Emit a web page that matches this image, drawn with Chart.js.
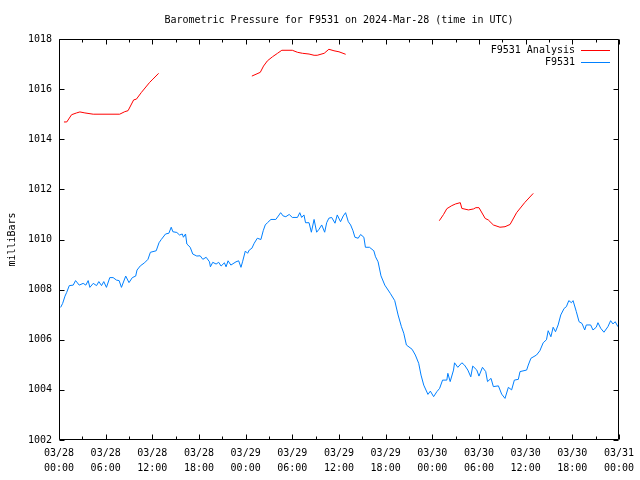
<!DOCTYPE html>
<html>
<head>
<meta charset="utf-8">
<script src="https://cdn.jsdelivr.net/npm/chart.js@4.4.1/dist/chart.umd.min.js"></script>
<style>
html,body{margin:0;padding:0;background:#fff;}
#wrap{width:640px;height:480px;}
</style>
</head>
<body>
<div id="wrap"><canvas id="c" width="640" height="480"></canvas></div>
<script>
const chartTitle = 'Barometric Pressure for F9531 on 2024-Mar-28 (time in UTC)';
const yAxisTitle = 'milliBars';
const seriesNames = ['F9531 Analysis', 'F9531'];
const xTickLabels = [
  ['03/28','00:00'],['03/28','06:00'],['03/28','12:00'],['03/28','18:00'],
  ['03/29','00:00'],['03/29','06:00'],['03/29','12:00'],['03/29','18:00'],
  ['03/30','00:00'],['03/30','06:00'],['03/30','12:00'],['03/30','18:00'],
  ['03/31','00:00']
];
// hours since 2024-03-28 00:00 UTC; null = gap
const analysisHours = [
  0.64,1.0,1.62,2.26,2.69,3.33,4.4,7.8,8.46,8.88,9.6,9.95,10.6,11.66,12.08,12.81,
  null,
  24.8,25.88,26.3,26.8,27.45,28.1,28.65,30.0,30.66,31.3,32.15,32.8,33.2,34.1,34.7,35.36,36.0,36.86,
  null,
  48.9,49.45,49.87,50.5,51.0,51.6,51.8,52.65,53.3,53.6,54.0,54.8,55.2,55.85,56.7,57.35,58.0,58.84,59.9,60.98
];
const analysisValues = [
  1014.69,1014.69,1014.98,1015.05,1015.09,1015.05,1015.0,1015.0,1015.1,1015.14,1015.57,1015.6,1015.87,1016.27,1016.4,1016.63,
  null,
  1016.52,1016.67,1016.92,1017.13,1017.29,1017.43,1017.55,1017.55,1017.47,1017.43,1017.4,1017.35,1017.35,1017.43,1017.59,1017.53,1017.49,1017.39,
  null,
  1010.75,1011.0,1011.23,1011.35,1011.42,1011.47,1011.24,1011.18,1011.22,1011.27,1011.27,1010.84,1010.78,1010.58,1010.49,1010.51,1010.6,1011.07,1011.48,1011.84
];
const stationHours = [
  0.21,0.47,0.77,0.99,1.32,1.83,2.13,2.6,3.11,3.45,3.75,3.97,4.4,4.83,5.12,5.47,5.76,6.1,6.53,6.96,
  7.39,7.73,8.03,8.58,9.0,9.43,9.86,10.03,10.46,11.0,11.44,11.75,12.5,12.86,13.15,13.7,14.13,14.43,14.64,15.15,
  15.5,15.85,16.0,16.27,16.44,16.87,17.2,17.72,18.15,18.49,18.92,19.35,19.47,19.77,20.2,20.53,20.84,21.27,21.48,21.74,
  22.1,22.76,23.1,23.4,23.6,23.96,24.25,24.47,24.8,25.1,25.5,25.96,26.26,26.52,26.8,27.25,27.88,28.3,28.5,28.82,
  29.17,29.6,30.0,30.66,30.96,31.2,31.5,31.7,32.15,32.45,32.8,33.13,33.44,33.78,34.16,34.42,34.7,35.06,35.49,35.78,
  36.2,36.55,36.85,37.2,37.5,37.8,38.05,38.47,38.78,39.2,39.4,39.92,40.48,40.7,41.03,41.4,41.89,42.6,43.17,43.6,
  44.03,44.33,44.67,45.4,45.82,46.25,46.55,46.9,47.44,47.75,48.17,48.59,48.94,49.32,49.87,50.0,50.3,50.73,50.86,51.28,
  51.8,52.14,52.57,52.95,53.2,53.72,54.0,54.45,54.87,55.1,55.55,55.85,56.5,56.92,57.35,57.78,58.2,58.55,59.06,59.28,
  60.13,60.34,60.68,61.4,61.83,62.26,62.68,62.9,63.25,63.54,63.84,64.18,64.52,64.95,65.24,65.55,65.89,66.1,66.52,66.87,
  67.25,67.6,67.8,68.36,68.66,69.08,69.3,69.65,70.07,70.58,70.93,71.23,71.52,71.87
];
const stationValues = [
  1007.29,1007.45,1007.74,1007.89,1008.16,1008.18,1008.36,1008.18,1008.25,1008.18,1008.36,1008.09,1008.25,1008.16,1008.32,1008.16,1008.32,1008.09,1008.48,1008.48,
  1008.38,1008.36,1008.09,1008.54,1008.28,1008.48,1008.54,1008.78,1008.95,1009.07,1009.21,1009.49,1009.55,1009.87,1010.0,1010.22,1010.25,1010.49,1010.31,1010.28,
  1010.18,1010.22,1010.09,1010.22,1009.82,1009.69,1009.42,1009.34,1009.35,1009.21,1009.29,1009.11,1008.91,1009.09,1009.02,1009.09,1008.94,1009.07,1008.91,1009.15,
  1008.98,1009.11,1009.15,1008.89,1009.11,1009.54,1009.45,1009.58,1009.65,1009.85,1010.05,1010.0,1010.35,1010.58,1010.67,1010.8,1010.8,1010.98,1011.07,1010.94,
  1010.91,1011.0,1010.88,1010.88,1011.07,1010.88,1010.98,1010.67,1010.67,1010.29,1010.8,1010.29,1010.41,1010.58,1010.29,1010.67,1010.85,1010.88,1010.65,1010.98,
  1010.71,1010.94,1011.07,1010.71,1010.58,1010.35,1010.09,1010.05,1010.2,1010.09,1009.69,1009.69,1009.55,1009.31,1009.11,1008.55,1008.18,1007.85,1007.56,1006.99,
  1006.52,1006.26,1005.79,1005.62,1005.39,1005.06,1004.59,1004.19,1003.82,1003.95,1003.73,1003.93,1004.06,1004.39,1004.39,1004.66,1004.33,1004.79,1005.08,1004.9,
  1005.08,1004.99,1004.79,1004.52,1004.95,1004.79,1004.55,1004.9,1004.73,1004.33,1004.46,1004.13,1004.16,1003.83,1003.66,1004.1,1004.0,1004.39,1004.42,1004.73,
  1004.79,1004.99,1005.26,1005.39,1005.56,1005.88,1006.0,1006.36,1006.12,1006.5,1006.32,1006.59,1006.99,1007.25,1007.32,1007.56,1007.48,1007.56,1007.12,1006.72,
  1006.65,1006.39,1006.59,1006.59,1006.39,1006.5,1006.68,1006.46,1006.3,1006.52,1006.76,1006.63,1006.72,1006.52
];
const seriesColors = ['#ff0000', '#0080ff'];

const FONT = "'DejaVu Sans Mono', 'Liberation Mono', monospace";

function toPoints(xs, ys) {
  return xs.map((x, i) => (x === null ? {x: NaN, y: null} : {x: x, y: ys[i]}));
}

const framePlugin = {
  id: 'frame',
  beforeDraw(chart) {
    const ctx = chart.ctx;
    ctx.save();
    ctx.fillStyle = '#ffffff';
    ctx.fillRect(0, 0, chart.width, chart.height);
    ctx.restore();
  },
  afterDatasetsDraw(chart) {
    const {ctx, chartArea: a, scales} = chart;
    const L = Math.round(a.left) + 0.5, R = Math.round(a.right) - 0.5;
    const T = Math.round(a.top) + 0.5, B = Math.round(a.bottom) - 0.5;
    ctx.save();
    ctx.strokeStyle = '#000';
    ctx.lineWidth = 1;
    ctx.beginPath();
    ctx.rect(L, T, R - L, B - T);
    // x ticks: major every 6h, minor every 3h, inward on bottom and top
    for (let h = 0; h <= 72; h += 3) {
      const px = Math.round(scales.x.getPixelForValue(h)) + 0.5;
      const len = (h % 6 === 0) ? 5 : 3;
      ctx.moveTo(px, B); ctx.lineTo(px, B - len);
      ctx.moveTo(px, T); ctx.lineTo(px, T + len);
    }
    for (let v = 1002; v <= 1018; v += 2) {
      const py = Math.round(scales.y.getPixelForValue(v)) + 0.5;
      ctx.moveTo(L, py); ctx.lineTo(L + 5, py);
      ctx.moveTo(R, py); ctx.lineTo(R - 5, py);
    }
    ctx.stroke();
    // legend (inside top right)
    ctx.font = '10px ' + FONT;
    ctx.textAlign = 'right';
    ctx.textBaseline = 'middle';
    ctx.fillStyle = '#000';
    const rows = [50, 62];
    seriesNames.forEach((name, i) => {
      ctx.fillText(name, 575, rows[i]);
      ctx.beginPath();
      ctx.strokeStyle = seriesColors[i];
      ctx.moveTo(581, rows[i] + 0.5);
      ctx.lineTo(610, rows[i] + 0.5);
      ctx.stroke();
    });
    ctx.restore();
  }
};

new Chart(document.getElementById('c'), {
  type: 'line',
  data: {
    datasets: [
      {
        label: seriesNames[0],
        data: toPoints(analysisHours, analysisValues),
        borderColor: seriesColors[0],
        borderWidth: 1,
        pointRadius: 0,
        tension: 0,
        spanGaps: false,
        fill: false
      },
      {
        label: seriesNames[1],
        data: toPoints(stationHours, stationValues),
        borderColor: seriesColors[1],
        borderWidth: 1,
        pointRadius: 0,
        tension: 0,
        fill: false
      }
    ]
  },
  options: {
    responsive: false,
    devicePixelRatio: 1,
    animation: false,
    parsing: true,
    layout: {padding: {left: 0, right: 19, top: 0, bottom: 0}},
    plugins: {
      legend: {display: false},
      tooltip: {enabled: false},
      title: {
        display: true,
        fullSize: false,
        text: chartTitle,
        color: '#000',
        font: {family: FONT, size: 10, weight: 'normal', lineHeight: 1.2},
        padding: {top: 14, bottom: 13}
      }
    },
    scales: {
      x: {
        type: 'linear',
        min: 0,
        max: 72,
        grid: {display: false, drawTicks: false},
        border: {display: false},
        afterFit(s) { s.height = 40; },
        afterBuildTicks(s) {
          s.ticks = xTickLabels.map((_, i) => ({value: i * 6}));
        },
        ticks: {
          color: '#000',
          font: {family: FONT, size: 10, lineHeight: 1.5},
          padding: 6,
          maxRotation: 0,
          autoSkip: false,
          callback: (v) => xTickLabels[Math.round(v / 6)]
        }
      },
      y: {
        type: 'linear',
        min: 1002,
        max: 1018,
        grid: {display: false, drawTicks: false},
        border: {display: false},
        afterFit(s) { s.width = 59; },
        ticks: {
          stepSize: 2,
          color: '#000',
          font: {family: FONT, size: 10},
          padding: 7,
          callback: (v) => String(v)
        },
        title: {
          display: true,
          text: yAxisTitle,
          color: '#000',
          font: {family: FONT, size: 10, lineHeight: 1.2},
          padding: {top: 6, bottom: 0}
        }
      }
    }
  },
  plugins: [framePlugin]
});
</script>
</body>
</html>
